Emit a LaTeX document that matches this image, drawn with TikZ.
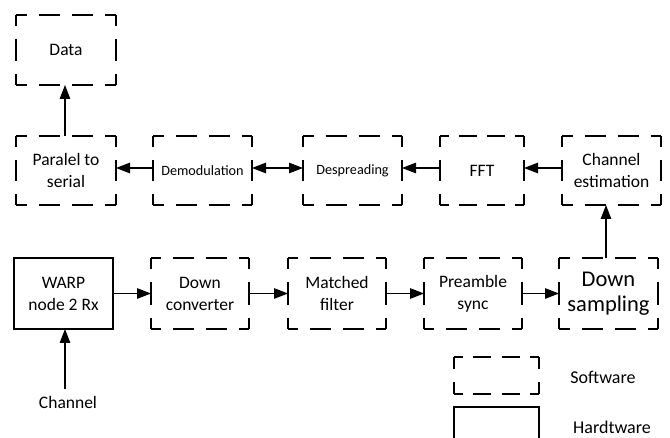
\documentclass[tikz,border=0pt]{standalone}
\usepackage{fontspec}
\setmainfont{Carlito}
\usetikzlibrary{arrows.meta}
% draw Visio-like dashed edges round a named node of width #2 and height #3
\newcommand\swedges[3]{%
  \pgfmathsetmacro\swpw{#2/max(1,round(#2/33))}%
  \pgfmathsetmacro\swph{#3/max(1,round(#3/33))}%
  \pgfmathsetmacro\swhd{\swpw*21/33}\pgfmathsetmacro\swhg{\swpw*12/33}\pgfmathsetmacro\swhp{\swhd/2}%
  \pgfmathsetmacro\swvd{\swph*21/33}\pgfmathsetmacro\swvg{\swph*12/33}\pgfmathsetmacro\swvp{\swvd/2}%
  \draw[edge, dash pattern=on \swhd pt off \swhg pt, dash phase=\swhp pt] (#1.north west) -- (#1.north east);
  \draw[edge, dash pattern=on \swhd pt off \swhg pt, dash phase=\swhp pt] (#1.south west) -- (#1.south east);
  \draw[edge, dash pattern=on \swvd pt off \swvg pt, dash phase=\swvp pt] (#1.north west) -- (#1.south west);
  \draw[edge, dash pattern=on \swvd pt off \swvg pt, dash phase=\swvp pt] (#1.north east) -- (#1.south east);
}
\begin{document}
\begin{tikzpicture}[x=1pt,y=-1pt,
  box/.style={inner sep=0pt, outer sep=0pt, align=center,
    font=\fontsize{17.5}{22}\selectfont},
  edge/.style={line width=1.2pt, line cap=butt},
  hw/.style={box, draw, line width=1.2pt},
  small/.style={font=\fontsize{14.2}{18}\selectfont},
  big/.style={font=\fontsize{22.5}{25.5}\selectfont},
  arr/.style={line width=1.2pt, -{Triangle[length=14pt,width=10.5pt]}},
  darr/.style={line width=1.2pt, {Triangle[length=14pt,width=10.5pt]}-{Triangle[length=14pt,width=10.5pt]}},
  lbl/.style={font=\fontsize{18}{22}\selectfont, inner sep=0pt}]
\useasboundingbox (0,0) rectangle (670,438);
\clip (0,0) rectangle (670,438);
% row 0
\node[box, minimum width=100pt, minimum height=70pt] (data) at (66,50) {Data};
% row 1
\node[box, minimum width=100pt, minimum height=69pt] (p2s) at (66,170.5) {Paralel to\\serial};
\node[box, small, minimum width=99pt, minimum height=69pt] (demod) at (202.5,170.5) {Demodulation};
\node[box, small, minimum width=99pt, minimum height=69pt] (desp) at (352.5,170.5) {Despreading};
\node[box, minimum width=84pt, minimum height=69pt] (fft) at (482,170.5) {FFT};
\node[box, minimum width=99pt, minimum height=69pt] (chest) at (611.5,170.5) {Channel\\estimation};
% row 2
\node[hw, minimum width=99pt, minimum height=71pt] (warp) at (63.5,293.5) {WARP\\node 2 Rx};
\node[box, minimum width=98pt, minimum height=71pt] (dconv) at (200,293.5) {Down\\converter};
\node[box, minimum width=98pt, minimum height=71pt] (mf) at (337,293.5) {Matched\\filter};
\node[box, minimum width=98pt, minimum height=71pt] (pre) at (473,293.5) {Preamble\\sync};
\node[box, big, minimum width=99pt, minimum height=71pt] (dsamp) at (608.5,293.5) {Down\\sampling};
% channel input
\node[lbl, font=\fontsize{17.5}{22}\selectfont, inner sep=7pt] (chan) at (68,402) {Channel};
% legend
\node[box, minimum width=85pt, minimum height=37pt] (legsw) at (496.5,375.5) {};
\node[hw, minimum width=85pt, minimum height=40pt] (leghw) at (496.5,427) {};
\node[lbl] (swtxt) at (603,377) {Software};
\node[lbl] (hwtxt) at (612,427) {Hardtware};
% dashed (software) outlines
\swedges{data}{100}{70}
\swedges{p2s}{100}{69}
\swedges{demod}{99}{69}
\swedges{desp}{99}{69}
\swedges{fft}{84}{69}
\swedges{chest}{99}{69}
\swedges{dconv}{98}{71}
\swedges{mf}{98}{71}
\swedges{pre}{98}{71}
\swedges{dsamp}{99}{71}
\swedges{legsw}{85}{37}
% connectors
\draw[arr] (p2s.north -| 65,0) -- (data.south -| 65,0);
\draw[arr] ([yshift=2.5pt]demod.west) -- ([yshift=2.5pt]p2s.east);
\draw[darr] ([yshift=2.5pt]demod.east) -- ([yshift=2.5pt]desp.west);
\draw[arr] ([yshift=2.5pt]fft.west) -- ([yshift=2.5pt]desp.east);
\draw[arr] ([yshift=2.5pt]chest.west) -- ([yshift=2.5pt]fft.east);
\draw[arr] (warp) -- (dconv);
\draw[arr] (dconv) -- (mf);
\draw[arr] (mf) -- (pre);
\draw[arr] (pre) -- (dsamp);
\draw[arr] (dsamp.north -| 606,0) -- (chest.south -| 606,0);
\draw[arr] (chan.north -| 65,0) -- (warp.south -| 65,0);
\end{tikzpicture}
\end{document}
